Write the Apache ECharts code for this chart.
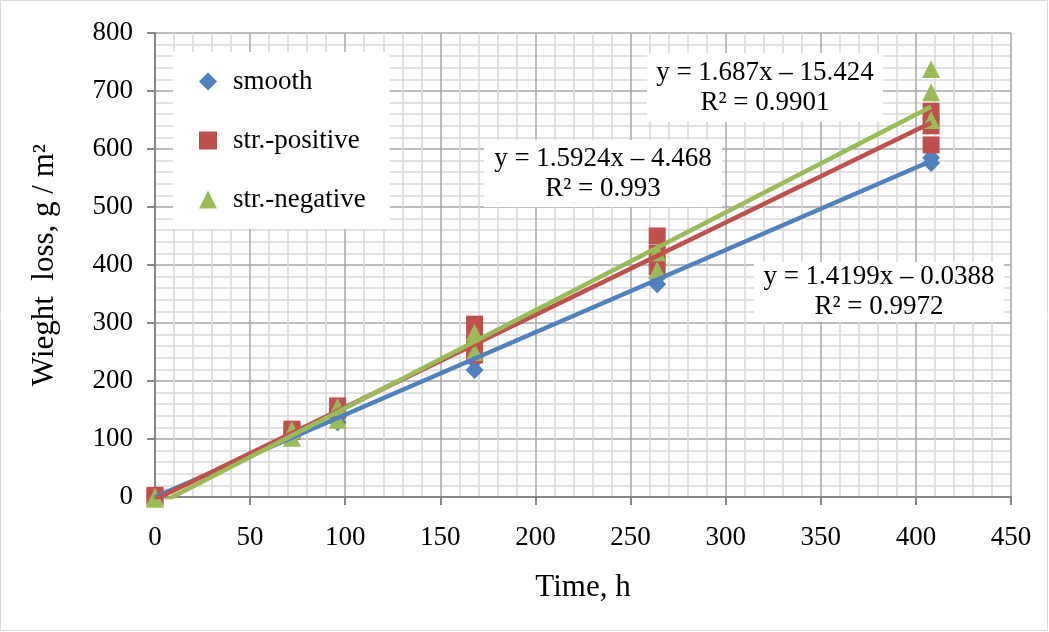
<!DOCTYPE html>
<html>
<head>
<meta charset="utf-8">
<script src="https://cdn.jsdelivr.net/npm/echarts@6/dist/echarts.min.js"></script>
<style>
html,body{margin:0;padding:0;background:#fff;}
#chart{width:1049px;height:632px;}
</style>
</head>
<body>
<div id="chart"></div>
<script>
// ---- data ----
var xTicks = [0, 50, 100, 150, 200, 250, 300, 350, 400, 450];
var yTicks = [0, 100, 200, 300, 400, 500, 600, 700, 800];
var seriesNames = ['smooth', 'str.-positive', 'str.-negative'];
// time (h) of each measurement, value (g/m²)
var smoothX = [0, 0, 72, 72, 96, 96, 168, 168, 264, 264, 408, 408];
var smoothY = [0, 1, 105, 112, 129, 138, 219, 235, 367, 378, 576, 585];
var positiveX = [0, 0, 72, 72, 96, 96, 168, 168, 168, 264, 264, 264, 408, 408, 408];
var positiveY = [0, 3, 117, 113, 157, 150, 298, 270, 245, 450, 420, 397, 665, 640, 607];
var negativeX = [0, 0, 72, 72, 96, 96, 168, 168, 264, 264, 408, 408, 408];
var negativeY = [0, -3, 115, 102, 155, 133, 283, 250, 422, 391, 738, 698, 650];
// linear trendlines: endpoints at x = 0 and x = 408 (from the printed equations)
var smoothTrend = [[0, -0.04], [408, 579.3]];
var positiveTrend = [[0, -4.47], [408, 645.2]];
var negativeTrend = [[0, -15.42], [408, 672.9]];
var equationLabels = [
  'y = 1.4199x \u2013 0.0388\nR\u00b2 = 0.9972',
  'y = 1.5924x \u2013 4.468\nR\u00b2 = 0.993',
  'y = 1.687x \u2013 15.424\nR\u00b2 = 0.9901'
];
var colors = ['#4F81BD', '#C0504D', '#9BBB59'];

function pairs(xs, ys) { return xs.map(function (x, i) { return [x, ys[i]]; }); }

var FONT = '"Liberation Serif", "Times New Roman", serif';
var chart = echarts.init(document.getElementById('chart'), null, {renderer: 'canvas'});

function eqBox(text, cx, top, w, h) {
  return {
    type: 'group',
    children: [
      {type: 'rect', shape: {x: cx - w / 2, y: top, width: w, height: h}, style: {fill: '#ffffff'}, z: 50},
      {type: 'text', x: cx, y: top + h / 2, z: 51,
        style: {text: text, font: '27px ' + FONT, fill: '#000', align: 'center', verticalAlign: 'middle', lineHeight: 30}}
    ]
  };
}

var option = {
  backgroundColor: '#ffffff',
  animation: false,
  color: colors,
  grid: {left: 155, right: 38, top: 33, bottom: 135, containLabel: false},
  xAxis: {
    type: 'value', min: 0, max: 450, interval: 50,
    name: 'Time, h', nameLocation: 'middle', nameGap: 75,
    nameTextStyle: {fontFamily: FONT, fontSize: 31, color: '#000'},
    axisLine: {show: true, onZero: false, lineStyle: {color: '#868686', width: 2}},
    axisTick: {show: true, length: 8, lineStyle: {color: '#868686', width: 2}},
    axisLabel: {fontFamily: FONT, fontSize: 27, color: '#000', margin: 27,
      formatter: function (v) { return xTicks.indexOf(v) >= 0 ? String(v) : ''; }},
    splitLine: {show: true, lineStyle: {color: '#A6A6A6', width: 1.5}},
    minorTick: {show: false, splitNumber: 5},
    minorSplitLine: {show: true, lineStyle: {color: '#D9D9D9', width: 1.6}}
  },
  yAxis: {
    type: 'value', min: 0, max: 800, interval: 100,
    name: 'Wieght  loss, g / m\u00b2', nameLocation: 'middle', nameGap: 95,
    nameTextStyle: {fontFamily: FONT, fontSize: 31, color: '#000'},
    axisLine: {show: true, onZero: false, lineStyle: {color: '#868686', width: 2}},
    axisTick: {show: true, length: 8, lineStyle: {color: '#868686', width: 2}},
    axisLabel: {fontFamily: FONT, fontSize: 27, color: '#000', margin: 22,
      formatter: function (v) { return yTicks.indexOf(v) >= 0 ? String(v) : ''; }},
    splitLine: {show: true, lineStyle: {color: '#A6A6A6', width: 1.5}},
    minorTick: {show: false, splitNumber: 5},
    minorSplitLine: {show: true, lineStyle: {color: '#D9D9D9', width: 1.6}}
  },
  legend: {
    show: true, orient: 'vertical', left: 173, top: 52,
    backgroundColor: '#ffffff', padding: [16, 24, 16, 26],
    itemWidth: 18, itemHeight: 18, itemGap: 32,
    textStyle: {fontFamily: FONT, fontSize: 27, color: '#000', padding: [0, 0, 0, 11]},
    data: [
      {name: seriesNames[0], icon: 'diamond'},
      {name: seriesNames[1], icon: 'rect'},
      {name: seriesNames[2], icon: 'triangle'}
    ],
    z: 20
  },
  series: [
    {name: seriesNames[0], type: 'scatter', symbol: 'diamond', symbolSize: 18, clip: false,
      itemStyle: {color: colors[0], opacity: 1}, data: pairs(smoothX, smoothY), z: 2},
    {name: seriesNames[1], type: 'scatter', symbol: 'rect', symbolSize: 17, clip: false,
      itemStyle: {color: colors[1], opacity: 1}, data: pairs(positiveX, positiveY), z: 3},
    {name: seriesNames[2], type: 'scatter', symbol: 'triangle', symbolSize: 18, clip: false,
      itemStyle: {color: colors[2], opacity: 1}, data: pairs(negativeX, negativeY), z: 4},
    {name: 'trend smooth', type: 'line', data: smoothTrend, showSymbol: false, symbol: 'none', clip: true,
      lineStyle: {color: colors[0], width: 4.5}, z: 5, silent: true},
    {name: 'trend positive', type: 'line', data: positiveTrend, showSymbol: false, symbol: 'none', clip: true,
      lineStyle: {color: colors[1], width: 4.5}, z: 6, silent: true},
    {name: 'trend negative', type: 'line', data: negativeTrend, showSymbol: false, symbol: 'none', clip: true,
      lineStyle: {color: colors[2], width: 4.5}, z: 7, silent: true}
  ],
  graphic: [
    {type: 'rect', shape: {x: 0.5, y: 0.5, width: 1047, height: 630}, style: {fill: 'none', stroke: '#D9D9D9', lineWidth: 1}, z: 60, silent: true},
    eqBox(equationLabels[2], 765, 53, 236, 69),
    eqBox(equationLabels[1], 603, 140, 238, 67),
    eqBox(equationLabels[0], 879, 262, 250, 60)
  ]
};
chart.setOption(option);
</script>
</body>
</html>
